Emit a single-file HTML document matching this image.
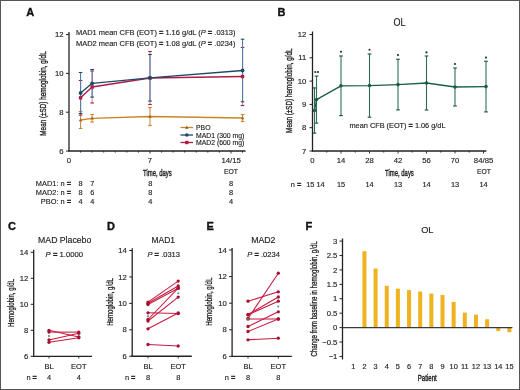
<!DOCTYPE html>
<html><head><meta charset="utf-8"><style>
html,body{margin:0;padding:0;background:#fff;}
body{width:520px;height:390px;overflow:hidden;}
svg{display:block;font-family:"Liberation Sans", sans-serif;will-change:transform;}
</style></head><body>
<svg width="520" height="390" viewBox="0 0 520 390">
<rect x="0" y="0" width="520" height="390" fill="#fff"/>
<text x="26.20" y="15.80" font-size="11" text-anchor="start" font-weight="bold" fill="#111" stroke="#111" stroke-width="0.35">A</text>
<line x1="69.00" y1="32.00" x2="69.00" y2="151.60" stroke="#222" stroke-width="1.3"/>
<line x1="68.40" y1="151.00" x2="245.50" y2="151.00" stroke="#222" stroke-width="1.3"/>
<text transform="translate(45.80,93.50) rotate(-90)" x="0" y="0" font-size="9.5" text-anchor="middle" fill="#1e1e1e" stroke="#1e1e1e" stroke-width="0.35" textLength="84.3" lengthAdjust="spacingAndGlyphs">Mean (±SD) hemoglobin, g/dL</text>
<line x1="66.00" y1="34.60" x2="69.00" y2="34.60" stroke="#222" stroke-width="1"/>
<text x="63.50" y="37.20" font-size="7.7" text-anchor="end" font-weight="normal" fill="#1e1e1e" stroke="#1e1e1e" stroke-width="0.15">12</text>
<line x1="66.00" y1="73.40" x2="69.00" y2="73.40" stroke="#222" stroke-width="1"/>
<text x="63.50" y="76.00" font-size="7.7" text-anchor="end" font-weight="normal" fill="#1e1e1e" stroke="#1e1e1e" stroke-width="0.15">10</text>
<line x1="66.00" y1="112.20" x2="69.00" y2="112.20" stroke="#222" stroke-width="1"/>
<text x="63.50" y="114.80" font-size="7.7" text-anchor="end" font-weight="normal" fill="#1e1e1e" stroke="#1e1e1e" stroke-width="0.15">8</text>
<line x1="66.00" y1="151.00" x2="69.00" y2="151.00" stroke="#222" stroke-width="1"/>
<text x="63.50" y="153.60" font-size="7.7" text-anchor="end" font-weight="normal" fill="#1e1e1e" stroke="#1e1e1e" stroke-width="0.15">6</text>
<line x1="80.57" y1="151.00" x2="80.57" y2="152.60" stroke="#222" stroke-width="0.9"/>
<line x1="92.14" y1="151.00" x2="92.14" y2="152.60" stroke="#222" stroke-width="0.9"/>
<line x1="103.71" y1="151.00" x2="103.71" y2="152.60" stroke="#222" stroke-width="0.9"/>
<line x1="115.28" y1="151.00" x2="115.28" y2="152.60" stroke="#222" stroke-width="0.9"/>
<line x1="126.85" y1="151.00" x2="126.85" y2="152.60" stroke="#222" stroke-width="0.9"/>
<line x1="138.42" y1="151.00" x2="138.42" y2="152.60" stroke="#222" stroke-width="0.9"/>
<line x1="149.99" y1="151.00" x2="149.99" y2="153.50" stroke="#222" stroke-width="0.9"/>
<line x1="161.56" y1="151.00" x2="161.56" y2="152.60" stroke="#222" stroke-width="0.9"/>
<line x1="173.13" y1="151.00" x2="173.13" y2="152.60" stroke="#222" stroke-width="0.9"/>
<line x1="184.70" y1="151.00" x2="184.70" y2="152.60" stroke="#222" stroke-width="0.9"/>
<line x1="196.27" y1="151.00" x2="196.27" y2="152.60" stroke="#222" stroke-width="0.9"/>
<line x1="207.84" y1="151.00" x2="207.84" y2="152.60" stroke="#222" stroke-width="0.9"/>
<line x1="219.41" y1="151.00" x2="219.41" y2="152.60" stroke="#222" stroke-width="0.9"/>
<line x1="230.98" y1="151.00" x2="230.98" y2="153.50" stroke="#222" stroke-width="0.9"/>
<line x1="242.55" y1="151.00" x2="242.55" y2="152.60" stroke="#222" stroke-width="0.9"/>
<text x="69.00" y="163.00" font-size="7.7" text-anchor="middle" font-weight="normal" fill="#1e1e1e" stroke="#1e1e1e" stroke-width="0.15">0</text>
<text x="150.00" y="163.00" font-size="7.7" text-anchor="middle" font-weight="normal" fill="#1e1e1e" stroke="#1e1e1e" stroke-width="0.15">7</text>
<text x="231.20" y="162.60" font-size="7.7" text-anchor="middle" font-weight="normal" fill="#1e1e1e" stroke="#1e1e1e" stroke-width="0.15" textLength="19.5" lengthAdjust="spacingAndGlyphs">14/15</text>
<text x="143.00" y="175.60" font-size="9.3" text-anchor="start" font-weight="normal" fill="#1e1e1e" stroke="#1e1e1e" stroke-width="0.4" textLength="28.7" lengthAdjust="spacingAndGlyphs">Time, days</text>
<text x="231.00" y="174.00" font-size="7.7" text-anchor="middle" font-weight="normal" fill="#1e1e1e" stroke="#1e1e1e" stroke-width="0.15" textLength="14" lengthAdjust="spacingAndGlyphs">EOT</text>
<text x="76.00" y="35.00" font-size="7.4" text-anchor="start" font-weight="normal" fill="#1e1e1e" stroke="#1e1e1e" stroke-width="0.15" textLength="159.5" lengthAdjust="spacingAndGlyphs">MAD1 mean CFB (EOT) <tspan font-weight="bold" stroke-width="0.3">=</tspan> 1.16 g/dL (<tspan font-style="italic">P</tspan> <tspan font-weight="bold" stroke-width="0.3">=</tspan> .0313)</text>
<text x="76.00" y="46.00" font-size="7.4" text-anchor="start" font-weight="normal" fill="#1e1e1e" stroke="#1e1e1e" stroke-width="0.15" textLength="159.5" lengthAdjust="spacingAndGlyphs">MAD2 mean CFB (EOT) <tspan font-weight="bold" stroke-width="0.3">=</tspan> 1.08 g/dL (<tspan font-style="italic">P</tspan> <tspan font-weight="bold" stroke-width="0.3">=</tspan> .0234)</text>
<line x1="80.57" y1="111.50" x2="80.57" y2="128.50" stroke="#c98e46" stroke-width="1.1"/>
<line x1="78.77" y1="111.50" x2="82.37" y2="111.50" stroke="#cc8526" stroke-width="1.1"/>
<line x1="78.77" y1="128.50" x2="82.37" y2="128.50" stroke="#cc8526" stroke-width="1.1"/>
<line x1="92.14" y1="114.50" x2="92.14" y2="122.10" stroke="#c98e46" stroke-width="1.1"/>
<line x1="90.34" y1="114.50" x2="93.94" y2="114.50" stroke="#cc8526" stroke-width="1.1"/>
<line x1="90.34" y1="122.10" x2="93.94" y2="122.10" stroke="#cc8526" stroke-width="1.1"/>
<line x1="149.99" y1="107.50" x2="149.99" y2="125.50" stroke="#c98e46" stroke-width="1.1"/>
<line x1="148.19" y1="107.50" x2="151.79" y2="107.50" stroke="#cc8526" stroke-width="1.1"/>
<line x1="148.19" y1="125.50" x2="151.79" y2="125.50" stroke="#cc8526" stroke-width="1.1"/>
<line x1="242.55" y1="114.50" x2="242.55" y2="121.50" stroke="#c98e46" stroke-width="1.1"/>
<line x1="240.75" y1="114.50" x2="244.35" y2="114.50" stroke="#cc8526" stroke-width="1.1"/>
<line x1="240.75" y1="121.50" x2="244.35" y2="121.50" stroke="#cc8526" stroke-width="1.1"/>
<line x1="80.57" y1="80.50" x2="80.57" y2="115.10" stroke="#d88aa0" stroke-width="1.1"/>
<line x1="78.77" y1="80.50" x2="82.37" y2="80.50" stroke="#b01a45" stroke-width="1.1"/>
<line x1="78.77" y1="115.10" x2="82.37" y2="115.10" stroke="#b01a45" stroke-width="1.1"/>
<line x1="92.14" y1="71.00" x2="92.14" y2="103.00" stroke="#d88aa0" stroke-width="1.1"/>
<line x1="90.34" y1="71.00" x2="93.94" y2="71.00" stroke="#b01a45" stroke-width="1.1"/>
<line x1="90.34" y1="103.00" x2="93.94" y2="103.00" stroke="#b01a45" stroke-width="1.1"/>
<line x1="149.99" y1="51.50" x2="149.99" y2="104.50" stroke="#d88aa0" stroke-width="1.1"/>
<line x1="148.19" y1="51.50" x2="151.79" y2="51.50" stroke="#b01a45" stroke-width="1.1"/>
<line x1="148.19" y1="104.50" x2="151.79" y2="104.50" stroke="#b01a45" stroke-width="1.1"/>
<line x1="242.55" y1="47.50" x2="242.55" y2="105.50" stroke="#d88aa0" stroke-width="1.1"/>
<line x1="240.75" y1="47.50" x2="244.35" y2="47.50" stroke="#b01a45" stroke-width="1.1"/>
<line x1="240.75" y1="105.50" x2="244.35" y2="105.50" stroke="#b01a45" stroke-width="1.1"/>
<line x1="80.57" y1="72.50" x2="80.57" y2="113.50" stroke="#4f7ea6" stroke-width="1.1"/>
<line x1="78.77" y1="72.50" x2="82.37" y2="72.50" stroke="#1d4a68" stroke-width="1.1"/>
<line x1="78.77" y1="113.50" x2="82.37" y2="113.50" stroke="#1d4a68" stroke-width="1.1"/>
<line x1="92.14" y1="69.50" x2="92.14" y2="97.10" stroke="#4f7ea6" stroke-width="1.1"/>
<line x1="90.34" y1="69.50" x2="93.94" y2="69.50" stroke="#1d4a68" stroke-width="1.1"/>
<line x1="90.34" y1="97.10" x2="93.94" y2="97.10" stroke="#1d4a68" stroke-width="1.1"/>
<line x1="149.99" y1="54.50" x2="149.99" y2="101.10" stroke="#4f7ea6" stroke-width="1.1"/>
<line x1="148.19" y1="54.50" x2="151.79" y2="54.50" stroke="#1d4a68" stroke-width="1.1"/>
<line x1="148.19" y1="101.10" x2="151.79" y2="101.10" stroke="#1d4a68" stroke-width="1.1"/>
<line x1="242.55" y1="39.20" x2="242.55" y2="101.80" stroke="#4f7ea6" stroke-width="1.1"/>
<line x1="240.75" y1="39.20" x2="244.35" y2="39.20" stroke="#1d4a68" stroke-width="1.1"/>
<line x1="240.75" y1="101.80" x2="244.35" y2="101.80" stroke="#1d4a68" stroke-width="1.1"/>
<polyline points="80.57,120.00 92.14,118.30 149.99,116.50 242.55,118.00" fill="none" stroke="#cc8526" stroke-width="1.3" stroke-linejoin="round"/>
<polyline points="80.57,97.80 92.14,87.00 149.99,78.00 242.55,76.50" fill="none" stroke="#b01a45" stroke-width="1.35" stroke-linejoin="round"/>
<polyline points="80.57,93.00 92.14,83.30 149.99,77.80 242.55,70.50" fill="none" stroke="#1d4a68" stroke-width="1.35" stroke-linejoin="round"/>
<path d="M78.77,121.30 L82.37,121.30 L80.57,118.20 Z" fill="#a86420"/>
<path d="M90.34,119.60 L93.94,119.60 L92.14,116.50 Z" fill="#a86420"/>
<path d="M148.19,117.80 L151.79,117.80 L149.99,114.70 Z" fill="#a86420"/>
<path d="M240.75,119.30 L244.35,119.30 L242.55,116.20 Z" fill="#a86420"/>
<rect x="78.87" y="96.10" width="3.4" height="3.4" fill="#b01a45"/>
<rect x="90.44" y="85.30" width="3.4" height="3.4" fill="#b01a45"/>
<rect x="148.29" y="76.30" width="3.4" height="3.4" fill="#b01a45"/>
<rect x="240.85" y="74.80" width="3.4" height="3.4" fill="#b01a45"/>
<circle cx="80.57" cy="93.00" r="1.9" fill="#1d4a68"/>
<circle cx="92.14" cy="83.30" r="1.9" fill="#1d4a68"/>
<circle cx="149.99" cy="77.80" r="1.9" fill="#1d4a68"/>
<circle cx="242.55" cy="70.50" r="1.9" fill="#1d4a68"/>
<line x1="180.50" y1="127.50" x2="193.00" y2="127.50" stroke="#cc8526" stroke-width="1.3"/>
<path d="M185.0,128.8 L188.60000000000002,128.8 L186.8,125.7 Z" fill="#9a5a1a"/>
<text x="196.00" y="130.10" font-size="7.3" text-anchor="start" font-weight="normal" fill="#1e1e1e" stroke="#1e1e1e" stroke-width="0.15" textLength="14.5" lengthAdjust="spacingAndGlyphs">PBO</text>
<line x1="180.50" y1="135.00" x2="193.00" y2="135.00" stroke="#1d4a68" stroke-width="1.3"/>
<circle cx="186.8" cy="135" r="1.8" fill="#1d4a68"/>
<text x="196.00" y="137.60" font-size="7.3" text-anchor="start" font-weight="normal" fill="#1e1e1e" stroke="#1e1e1e" stroke-width="0.15" textLength="48.3" lengthAdjust="spacingAndGlyphs">MAD1 (300 mg)</text>
<line x1="180.50" y1="142.50" x2="193.00" y2="142.50" stroke="#b01a45" stroke-width="1.3"/>
<rect x="185.10000000000002" y="140.8" width="3.4" height="3.4" fill="#b01a45"/>
<text x="196.00" y="145.10" font-size="7.3" text-anchor="start" font-weight="normal" fill="#1e1e1e" stroke="#1e1e1e" stroke-width="0.15" textLength="48.3" lengthAdjust="spacingAndGlyphs">MAD2 (600 mg)</text>
<text x="71.00" y="185.50" font-size="7.4" text-anchor="end" font-weight="normal" fill="#1e1e1e" stroke="#1e1e1e" stroke-width="0.15">MAD1: n <tspan font-weight="bold" stroke-width="0.3">=</tspan></text>
<text x="80.60" y="185.50" font-size="7.4" text-anchor="middle" font-weight="normal" fill="#1e1e1e" stroke="#1e1e1e" stroke-width="0.15">8</text>
<text x="92.20" y="185.50" font-size="7.4" text-anchor="middle" font-weight="normal" fill="#1e1e1e" stroke="#1e1e1e" stroke-width="0.15">7</text>
<text x="150.20" y="185.50" font-size="7.4" text-anchor="middle" font-weight="normal" fill="#1e1e1e" stroke="#1e1e1e" stroke-width="0.15">8</text>
<text x="231.00" y="185.50" font-size="7.4" text-anchor="middle" font-weight="normal" fill="#1e1e1e" stroke="#1e1e1e" stroke-width="0.15">8</text>
<text x="71.00" y="194.50" font-size="7.4" text-anchor="end" font-weight="normal" fill="#1e1e1e" stroke="#1e1e1e" stroke-width="0.15">MAD2: n <tspan font-weight="bold" stroke-width="0.3">=</tspan></text>
<text x="80.60" y="194.50" font-size="7.4" text-anchor="middle" font-weight="normal" fill="#1e1e1e" stroke="#1e1e1e" stroke-width="0.15">8</text>
<text x="92.20" y="194.50" font-size="7.4" text-anchor="middle" font-weight="normal" fill="#1e1e1e" stroke="#1e1e1e" stroke-width="0.15">6</text>
<text x="150.20" y="194.50" font-size="7.4" text-anchor="middle" font-weight="normal" fill="#1e1e1e" stroke="#1e1e1e" stroke-width="0.15">8</text>
<text x="231.00" y="194.50" font-size="7.4" text-anchor="middle" font-weight="normal" fill="#1e1e1e" stroke="#1e1e1e" stroke-width="0.15">8</text>
<text x="71.00" y="203.50" font-size="7.4" text-anchor="end" font-weight="normal" fill="#1e1e1e" stroke="#1e1e1e" stroke-width="0.15">PBO: n <tspan font-weight="bold" stroke-width="0.3">=</tspan></text>
<text x="80.60" y="203.50" font-size="7.4" text-anchor="middle" font-weight="normal" fill="#1e1e1e" stroke="#1e1e1e" stroke-width="0.15">4</text>
<text x="92.20" y="203.50" font-size="7.4" text-anchor="middle" font-weight="normal" fill="#1e1e1e" stroke="#1e1e1e" stroke-width="0.15">4</text>
<text x="150.20" y="203.50" font-size="7.4" text-anchor="middle" font-weight="normal" fill="#1e1e1e" stroke="#1e1e1e" stroke-width="0.15">4</text>
<text x="231.00" y="203.50" font-size="7.4" text-anchor="middle" font-weight="normal" fill="#1e1e1e" stroke="#1e1e1e" stroke-width="0.15">4</text>
<text x="277.60" y="15.80" font-size="11" text-anchor="start" font-weight="bold" fill="#111" stroke="#111" stroke-width="0.35">B</text>
<text x="399.50" y="26.20" font-size="10.2" text-anchor="middle" font-weight="normal" fill="#1e1e1e" stroke="#1e1e1e" stroke-width="0.15" textLength="12" lengthAdjust="spacingAndGlyphs">OL</text>
<line x1="312.50" y1="31.50" x2="312.50" y2="151.60" stroke="#222" stroke-width="1.3"/>
<line x1="311.90" y1="151.00" x2="486.40" y2="151.00" stroke="#222" stroke-width="1.3"/>
<line x1="309.50" y1="34.50" x2="312.50" y2="34.50" stroke="#222" stroke-width="1"/>
<text x="306.30" y="37.10" font-size="7.7" text-anchor="end" font-weight="normal" fill="#1e1e1e" stroke="#1e1e1e" stroke-width="0.15">12</text>
<line x1="309.50" y1="57.80" x2="312.50" y2="57.80" stroke="#222" stroke-width="1"/>
<text x="306.30" y="60.40" font-size="7.7" text-anchor="end" font-weight="normal" fill="#1e1e1e" stroke="#1e1e1e" stroke-width="0.15">11</text>
<line x1="309.50" y1="81.10" x2="312.50" y2="81.10" stroke="#222" stroke-width="1"/>
<text x="306.30" y="83.70" font-size="7.7" text-anchor="end" font-weight="normal" fill="#1e1e1e" stroke="#1e1e1e" stroke-width="0.15">10</text>
<line x1="309.50" y1="104.40" x2="312.50" y2="104.40" stroke="#222" stroke-width="1"/>
<text x="306.30" y="107.00" font-size="7.7" text-anchor="end" font-weight="normal" fill="#1e1e1e" stroke="#1e1e1e" stroke-width="0.15">9</text>
<line x1="309.50" y1="127.70" x2="312.50" y2="127.70" stroke="#222" stroke-width="1"/>
<text x="306.30" y="130.30" font-size="7.7" text-anchor="end" font-weight="normal" fill="#1e1e1e" stroke="#1e1e1e" stroke-width="0.15">8</text>
<line x1="309.50" y1="151.00" x2="312.50" y2="151.00" stroke="#222" stroke-width="1"/>
<text x="306.30" y="153.60" font-size="7.7" text-anchor="end" font-weight="normal" fill="#1e1e1e" stroke="#1e1e1e" stroke-width="0.15">7</text>
<line x1="326.75" y1="151.00" x2="326.75" y2="152.60" stroke="#222" stroke-width="0.9"/>
<line x1="341.00" y1="151.00" x2="341.00" y2="153.50" stroke="#222" stroke-width="0.9"/>
<line x1="355.26" y1="151.00" x2="355.26" y2="152.60" stroke="#222" stroke-width="0.9"/>
<line x1="369.51" y1="151.00" x2="369.51" y2="153.50" stroke="#222" stroke-width="0.9"/>
<line x1="383.76" y1="151.00" x2="383.76" y2="152.60" stroke="#222" stroke-width="0.9"/>
<line x1="398.01" y1="151.00" x2="398.01" y2="153.50" stroke="#222" stroke-width="0.9"/>
<line x1="412.26" y1="151.00" x2="412.26" y2="152.60" stroke="#222" stroke-width="0.9"/>
<line x1="426.52" y1="151.00" x2="426.52" y2="153.50" stroke="#222" stroke-width="0.9"/>
<line x1="440.77" y1="151.00" x2="440.77" y2="152.60" stroke="#222" stroke-width="0.9"/>
<line x1="455.02" y1="151.00" x2="455.02" y2="153.50" stroke="#222" stroke-width="0.9"/>
<line x1="469.27" y1="151.00" x2="469.27" y2="152.60" stroke="#222" stroke-width="0.9"/>
<line x1="483.52" y1="151.00" x2="483.52" y2="153.50" stroke="#222" stroke-width="0.9"/>
<text x="312.50" y="163.00" font-size="7.7" text-anchor="middle" font-weight="normal" fill="#1e1e1e" stroke="#1e1e1e" stroke-width="0.15">0</text>
<text x="341.00" y="163.00" font-size="7.7" text-anchor="middle" font-weight="normal" fill="#1e1e1e" stroke="#1e1e1e" stroke-width="0.15">14</text>
<text x="369.51" y="163.00" font-size="7.7" text-anchor="middle" font-weight="normal" fill="#1e1e1e" stroke="#1e1e1e" stroke-width="0.15">28</text>
<text x="398.01" y="163.00" font-size="7.7" text-anchor="middle" font-weight="normal" fill="#1e1e1e" stroke="#1e1e1e" stroke-width="0.15">42</text>
<text x="426.52" y="163.00" font-size="7.7" text-anchor="middle" font-weight="normal" fill="#1e1e1e" stroke="#1e1e1e" stroke-width="0.15">56</text>
<text x="455.02" y="163.00" font-size="7.7" text-anchor="middle" font-weight="normal" fill="#1e1e1e" stroke="#1e1e1e" stroke-width="0.15">70</text>
<text x="483.60" y="163.00" font-size="7.7" text-anchor="middle" font-weight="normal" fill="#1e1e1e" stroke="#1e1e1e" stroke-width="0.15" textLength="19.5" lengthAdjust="spacingAndGlyphs">84/85</text>
<text x="385.10" y="175.80" font-size="9.3" text-anchor="start" font-weight="normal" fill="#1e1e1e" stroke="#1e1e1e" stroke-width="0.4" textLength="28.7" lengthAdjust="spacingAndGlyphs">Time, days</text>
<text x="484.00" y="174.00" font-size="7.7" text-anchor="middle" font-weight="normal" fill="#1e1e1e" stroke="#1e1e1e" stroke-width="0.15" textLength="14" lengthAdjust="spacingAndGlyphs">EOT</text>
<text x="290.80" y="187.20" font-size="7.4" text-anchor="start" font-weight="normal" fill="#1e1e1e" stroke="#1e1e1e" stroke-width="0.15">n <tspan font-weight="bold" stroke-width="0.3">=</tspan></text>
<text x="310.30" y="187.20" font-size="7.4" text-anchor="middle" font-weight="normal" fill="#1e1e1e" stroke="#1e1e1e" stroke-width="0.15">15</text>
<text x="320.50" y="187.20" font-size="7.4" text-anchor="middle" font-weight="normal" fill="#1e1e1e" stroke="#1e1e1e" stroke-width="0.15">14</text>
<text x="341.00" y="187.20" font-size="7.4" text-anchor="middle" font-weight="normal" fill="#1e1e1e" stroke="#1e1e1e" stroke-width="0.15">15</text>
<text x="369.51" y="187.20" font-size="7.4" text-anchor="middle" font-weight="normal" fill="#1e1e1e" stroke="#1e1e1e" stroke-width="0.15">14</text>
<text x="398.01" y="187.20" font-size="7.4" text-anchor="middle" font-weight="normal" fill="#1e1e1e" stroke="#1e1e1e" stroke-width="0.15">13</text>
<text x="426.52" y="187.20" font-size="7.4" text-anchor="middle" font-weight="normal" fill="#1e1e1e" stroke="#1e1e1e" stroke-width="0.15">14</text>
<text x="455.02" y="187.20" font-size="7.4" text-anchor="middle" font-weight="normal" fill="#1e1e1e" stroke="#1e1e1e" stroke-width="0.15">13</text>
<text x="483.52" y="187.20" font-size="7.4" text-anchor="middle" font-weight="normal" fill="#1e1e1e" stroke="#1e1e1e" stroke-width="0.15">14</text>
<text x="349.50" y="128.00" font-size="7.4" text-anchor="start" font-weight="normal" fill="#1e1e1e" stroke="#1e1e1e" stroke-width="0.15" textLength="96" lengthAdjust="spacingAndGlyphs">mean CFB (EOT) <tspan font-weight="bold" stroke-width="0.3">=</tspan> 1.06 g/dL</text>
<text transform="translate(292.20,90.70) rotate(-90)" x="0" y="0" font-size="9.2" text-anchor="middle" fill="#1e1e1e" stroke="#1e1e1e" stroke-width="0.35" textLength="84.4" lengthAdjust="spacingAndGlyphs">Mean (±SD) hemoglobin, g/dL</text>
<line x1="314.50" y1="87.90" x2="314.50" y2="133.10" stroke="#2f6d5a" stroke-width="1.1"/>
<line x1="312.70" y1="87.90" x2="316.30" y2="87.90" stroke="#1b5e49" stroke-width="1.2"/>
<line x1="312.70" y1="133.10" x2="316.30" y2="133.10" stroke="#1b5e49" stroke-width="1.2"/>
<line x1="316.50" y1="76.10" x2="316.50" y2="123.10" stroke="#2f6d5a" stroke-width="1.1"/>
<line x1="314.70" y1="76.10" x2="318.30" y2="76.10" stroke="#1b5e49" stroke-width="1.2"/>
<line x1="314.70" y1="123.10" x2="318.30" y2="123.10" stroke="#1b5e49" stroke-width="1.2"/>
<line x1="341.00" y1="56.00" x2="341.00" y2="115.60" stroke="#2f6d5a" stroke-width="1.1"/>
<line x1="339.20" y1="56.00" x2="342.80" y2="56.00" stroke="#1b5e49" stroke-width="1.2"/>
<line x1="339.20" y1="115.60" x2="342.80" y2="115.60" stroke="#1b5e49" stroke-width="1.2"/>
<line x1="369.50" y1="54.00" x2="369.50" y2="117.20" stroke="#2f6d5a" stroke-width="1.1"/>
<line x1="367.70" y1="54.00" x2="371.30" y2="54.00" stroke="#1b5e49" stroke-width="1.2"/>
<line x1="367.70" y1="117.20" x2="371.30" y2="117.20" stroke="#1b5e49" stroke-width="1.2"/>
<line x1="398.00" y1="59.30" x2="398.00" y2="109.90" stroke="#2f6d5a" stroke-width="1.1"/>
<line x1="396.20" y1="59.30" x2="399.80" y2="59.30" stroke="#1b5e49" stroke-width="1.2"/>
<line x1="396.20" y1="109.90" x2="399.80" y2="109.90" stroke="#1b5e49" stroke-width="1.2"/>
<line x1="426.50" y1="56.00" x2="426.50" y2="110.00" stroke="#2f6d5a" stroke-width="1.1"/>
<line x1="424.70" y1="56.00" x2="428.30" y2="56.00" stroke="#1b5e49" stroke-width="1.2"/>
<line x1="424.70" y1="110.00" x2="428.30" y2="110.00" stroke="#1b5e49" stroke-width="1.2"/>
<line x1="455.00" y1="68.00" x2="455.00" y2="106.00" stroke="#2f6d5a" stroke-width="1.1"/>
<line x1="453.20" y1="68.00" x2="456.80" y2="68.00" stroke="#1b5e49" stroke-width="1.2"/>
<line x1="453.20" y1="106.00" x2="456.80" y2="106.00" stroke="#1b5e49" stroke-width="1.2"/>
<line x1="486.00" y1="61.30" x2="486.00" y2="111.90" stroke="#2f6d5a" stroke-width="1.1"/>
<line x1="484.20" y1="61.30" x2="487.80" y2="61.30" stroke="#1b5e49" stroke-width="1.2"/>
<line x1="484.20" y1="111.90" x2="487.80" y2="111.90" stroke="#1b5e49" stroke-width="1.2"/>
<polyline points="314.50,110.50 316.50,99.60 341.00,85.80 369.50,85.60 398.00,84.60 426.50,83.00 455.00,87.00 486.00,86.60" fill="none" stroke="#1b5e49" stroke-width="1.35" stroke-linejoin="round"/>
<circle cx="314.5" cy="110.5" r="1.8" fill="#1b5e49"/>
<circle cx="316.5" cy="99.6" r="1.8" fill="#1b5e49"/>
<circle cx="341" cy="85.8" r="1.8" fill="#1b5e49"/>
<circle cx="369.5" cy="85.6" r="1.8" fill="#1b5e49"/>
<circle cx="398" cy="84.6" r="1.8" fill="#1b5e49"/>
<circle cx="426.5" cy="83" r="1.8" fill="#1b5e49"/>
<circle cx="455" cy="87" r="1.8" fill="#1b5e49"/>
<circle cx="486" cy="86.6" r="1.8" fill="#1b5e49"/>
<circle cx="341" cy="51.8" r="1.05" fill="#2a2a2a"/>
<circle cx="369.5" cy="49.8" r="1.05" fill="#2a2a2a"/>
<circle cx="398" cy="55.1" r="1.05" fill="#2a2a2a"/>
<circle cx="426.5" cy="52.4" r="1.05" fill="#2a2a2a"/>
<circle cx="455" cy="64" r="1.05" fill="#2a2a2a"/>
<circle cx="486" cy="57.6" r="1.05" fill="#2a2a2a"/>
<circle cx="315.3" cy="72" r="1.05" fill="#2a2a2a"/><circle cx="318" cy="72" r="1.05" fill="#2a2a2a"/>
<text x="8.00" y="230.20" font-size="11" text-anchor="start" font-weight="bold" fill="#111" stroke="#111" stroke-width="0.35">C</text>
<text x="64.67" y="242.80" font-size="8.6" text-anchor="middle" font-weight="normal" fill="#1e1e1e" stroke="#1e1e1e" stroke-width="0.15" textLength="53.15" lengthAdjust="spacingAndGlyphs">MAD Placebo</text>
<text x="45.60" y="257.10" font-size="7.5" text-anchor="start" font-weight="normal" fill="#1e1e1e" stroke="#1e1e1e" stroke-width="0.15" textLength="37.49999999999999" lengthAdjust="spacingAndGlyphs"><tspan font-style="italic">P</tspan> <tspan font-weight="bold" stroke-width="0.3">=</tspan> 1.0000</text>
<line x1="33.70" y1="249.70" x2="33.70" y2="356.90" stroke="#222" stroke-width="1.3"/>
<line x1="33.10" y1="356.30" x2="92.00" y2="356.30" stroke="#222" stroke-width="1.3"/>
<line x1="30.70" y1="252.30" x2="33.70" y2="252.30" stroke="#222" stroke-width="1"/>
<text x="28.40" y="254.90" font-size="7.7" text-anchor="end" font-weight="normal" fill="#1e1e1e" stroke="#1e1e1e" stroke-width="0.15">14</text>
<line x1="30.70" y1="278.30" x2="33.70" y2="278.30" stroke="#222" stroke-width="1"/>
<text x="28.40" y="280.90" font-size="7.7" text-anchor="end" font-weight="normal" fill="#1e1e1e" stroke="#1e1e1e" stroke-width="0.15">12</text>
<line x1="30.70" y1="304.30" x2="33.70" y2="304.30" stroke="#222" stroke-width="1"/>
<text x="28.40" y="306.90" font-size="7.7" text-anchor="end" font-weight="normal" fill="#1e1e1e" stroke="#1e1e1e" stroke-width="0.15">10</text>
<line x1="30.70" y1="330.30" x2="33.70" y2="330.30" stroke="#222" stroke-width="1"/>
<text x="28.40" y="332.90" font-size="7.7" text-anchor="end" font-weight="normal" fill="#1e1e1e" stroke="#1e1e1e" stroke-width="0.15">8</text>
<line x1="30.70" y1="356.30" x2="33.70" y2="356.30" stroke="#222" stroke-width="1"/>
<text x="28.40" y="358.90" font-size="7.7" text-anchor="end" font-weight="normal" fill="#1e1e1e" stroke="#1e1e1e" stroke-width="0.15">6</text>
<line x1="49.00" y1="356.30" x2="49.00" y2="358.50" stroke="#222" stroke-width="0.9"/>
<line x1="78.80" y1="356.30" x2="78.80" y2="358.50" stroke="#222" stroke-width="0.9"/>
<text x="49.00" y="368.80" font-size="7.5" text-anchor="middle" font-weight="normal" fill="#1e1e1e" stroke="#1e1e1e" stroke-width="0.15">BL</text>
<text x="78.80" y="368.80" font-size="7.5" text-anchor="middle" font-weight="normal" fill="#1e1e1e" stroke="#1e1e1e" stroke-width="0.15">EOT</text>
<text x="26.40" y="379.60" font-size="7.4" text-anchor="start" font-weight="normal" fill="#1e1e1e" stroke="#1e1e1e" stroke-width="0.15">n <tspan font-weight="bold" stroke-width="0.3">=</tspan></text>
<text x="49.00" y="379.60" font-size="7.4" text-anchor="middle" font-weight="normal" fill="#1e1e1e" stroke="#1e1e1e" stroke-width="0.15">4</text>
<text x="78.80" y="379.60" font-size="7.4" text-anchor="middle" font-weight="normal" fill="#1e1e1e" stroke="#1e1e1e" stroke-width="0.15">4</text>
<text transform="translate(14.20,302.85) rotate(-90)" x="0" y="0" font-size="8.6" text-anchor="middle" fill="#1e1e1e" stroke="#1e1e1e" stroke-width="0.3" textLength="48.099999999999966" lengthAdjust="spacingAndGlyphs">Hemoglobin, g/dL</text>
<line x1="49.00" y1="330.30" x2="78.80" y2="337.00" stroke="#c81a40" stroke-width="1.05"/>
<line x1="49.00" y1="332.10" x2="78.80" y2="332.10" stroke="#c81a40" stroke-width="1.05"/>
<line x1="49.00" y1="340.00" x2="78.80" y2="333.30" stroke="#c81a40" stroke-width="1.05"/>
<line x1="49.00" y1="342.30" x2="78.80" y2="337.75" stroke="#c81a40" stroke-width="1.05"/>
<circle cx="49" cy="330.3" r="1.65" fill="#a80f30"/><circle cx="78.8" cy="337.0" r="1.65" fill="#a80f30"/>
<circle cx="49" cy="332.1" r="1.65" fill="#a80f30"/><circle cx="78.8" cy="332.1" r="1.65" fill="#a80f30"/>
<circle cx="49" cy="340" r="1.65" fill="#a80f30"/><circle cx="78.8" cy="333.3" r="1.65" fill="#a80f30"/>
<circle cx="49" cy="342.3" r="1.65" fill="#a80f30"/><circle cx="78.8" cy="337.75" r="1.65" fill="#a80f30"/>
<circle cx="49" cy="335.9" r="1" fill="#5a8a3a"/>
<text x="107.00" y="230.20" font-size="11" text-anchor="start" font-weight="bold" fill="#111" stroke="#111" stroke-width="0.35">D</text>
<text x="163.25" y="242.80" font-size="8.6" text-anchor="middle" font-weight="normal" fill="#1e1e1e" stroke="#1e1e1e" stroke-width="0.15" textLength="23.5" lengthAdjust="spacingAndGlyphs">MAD1</text>
<text x="147.50" y="257.10" font-size="7.5" text-anchor="start" font-weight="normal" fill="#1e1e1e" stroke="#1e1e1e" stroke-width="0.15" textLength="32.5" lengthAdjust="spacingAndGlyphs"><tspan font-style="italic">P</tspan> <tspan font-weight="bold" stroke-width="0.3">=</tspan> .0313</text>
<line x1="132.20" y1="248.20" x2="132.20" y2="356.86" stroke="#222" stroke-width="1.3"/>
<line x1="131.60" y1="356.26" x2="191.80" y2="356.26" stroke="#222" stroke-width="1.3"/>
<line x1="129.20" y1="250.50" x2="132.20" y2="250.50" stroke="#222" stroke-width="1"/>
<text x="126.90" y="253.10" font-size="7.7" text-anchor="end" font-weight="normal" fill="#1e1e1e" stroke="#1e1e1e" stroke-width="0.15">14</text>
<line x1="129.20" y1="276.94" x2="132.20" y2="276.94" stroke="#222" stroke-width="1"/>
<text x="126.90" y="279.54" font-size="7.7" text-anchor="end" font-weight="normal" fill="#1e1e1e" stroke="#1e1e1e" stroke-width="0.15">12</text>
<line x1="129.20" y1="303.38" x2="132.20" y2="303.38" stroke="#222" stroke-width="1"/>
<text x="126.90" y="305.98" font-size="7.7" text-anchor="end" font-weight="normal" fill="#1e1e1e" stroke="#1e1e1e" stroke-width="0.15">10</text>
<line x1="129.20" y1="329.82" x2="132.20" y2="329.82" stroke="#222" stroke-width="1"/>
<text x="126.90" y="332.42" font-size="7.7" text-anchor="end" font-weight="normal" fill="#1e1e1e" stroke="#1e1e1e" stroke-width="0.15">8</text>
<line x1="129.20" y1="356.26" x2="132.20" y2="356.26" stroke="#222" stroke-width="1"/>
<text x="126.90" y="358.86" font-size="7.7" text-anchor="end" font-weight="normal" fill="#1e1e1e" stroke="#1e1e1e" stroke-width="0.15">6</text>
<line x1="148.00" y1="356.26" x2="148.00" y2="358.46" stroke="#222" stroke-width="0.9"/>
<line x1="178.20" y1="356.26" x2="178.20" y2="358.46" stroke="#222" stroke-width="0.9"/>
<text x="148.00" y="368.80" font-size="7.5" text-anchor="middle" font-weight="normal" fill="#1e1e1e" stroke="#1e1e1e" stroke-width="0.15">BL</text>
<text x="178.20" y="368.80" font-size="7.5" text-anchor="middle" font-weight="normal" fill="#1e1e1e" stroke="#1e1e1e" stroke-width="0.15">EOT</text>
<text x="124.90" y="379.60" font-size="7.4" text-anchor="start" font-weight="normal" fill="#1e1e1e" stroke="#1e1e1e" stroke-width="0.15">n <tspan font-weight="bold" stroke-width="0.3">=</tspan></text>
<text x="148.00" y="379.60" font-size="7.4" text-anchor="middle" font-weight="normal" fill="#1e1e1e" stroke="#1e1e1e" stroke-width="0.15">8</text>
<text x="178.20" y="379.60" font-size="7.4" text-anchor="middle" font-weight="normal" fill="#1e1e1e" stroke="#1e1e1e" stroke-width="0.15">8</text>
<text transform="translate(112.50,301.95) rotate(-90)" x="0" y="0" font-size="8.6" text-anchor="middle" fill="#1e1e1e" stroke="#1e1e1e" stroke-width="0.3" textLength="47.69999999999999" lengthAdjust="spacingAndGlyphs">Hemoglobin, g/dL</text>
<line x1="148.00" y1="302.10" x2="178.20" y2="281.10" stroke="#c81a40" stroke-width="1.05"/>
<line x1="148.00" y1="303.30" x2="178.20" y2="286.00" stroke="#c81a40" stroke-width="1.05"/>
<line x1="148.00" y1="304.50" x2="178.20" y2="288.20" stroke="#c81a40" stroke-width="1.05"/>
<line x1="148.00" y1="319.50" x2="178.20" y2="288.20" stroke="#c81a40" stroke-width="1.05"/>
<line x1="148.00" y1="321.00" x2="178.20" y2="297.10" stroke="#c81a40" stroke-width="1.05"/>
<line x1="148.00" y1="312.80" x2="178.20" y2="313.50" stroke="#c81a40" stroke-width="1.05"/>
<line x1="148.00" y1="328.80" x2="178.20" y2="313.00" stroke="#c81a40" stroke-width="1.05"/>
<line x1="148.00" y1="344.50" x2="178.20" y2="346.00" stroke="#c81a40" stroke-width="1.05"/>
<circle cx="148" cy="302.1" r="1.65" fill="#a80f30"/><circle cx="178.2" cy="281.1" r="1.65" fill="#a80f30"/>
<circle cx="148" cy="303.3" r="1.65" fill="#a80f30"/><circle cx="178.2" cy="286" r="1.65" fill="#a80f30"/>
<circle cx="148" cy="304.5" r="1.65" fill="#a80f30"/><circle cx="178.2" cy="288.2" r="1.65" fill="#a80f30"/>
<circle cx="148" cy="319.5" r="1.65" fill="#a80f30"/><circle cx="178.2" cy="288.2" r="1.65" fill="#a80f30"/>
<circle cx="148" cy="321" r="1.65" fill="#a80f30"/><circle cx="178.2" cy="297.1" r="1.65" fill="#a80f30"/>
<circle cx="148" cy="312.8" r="1.65" fill="#a80f30"/><circle cx="178.2" cy="313.5" r="1.65" fill="#a80f30"/>
<circle cx="148" cy="328.8" r="1.65" fill="#a80f30"/><circle cx="178.2" cy="313" r="1.65" fill="#a80f30"/>
<circle cx="148" cy="344.5" r="1.65" fill="#a80f30"/><circle cx="178.2" cy="346" r="1.65" fill="#a80f30"/>
<circle cx="148" cy="316.2" r="1" fill="#5a8a3a"/>
<circle cx="178.2" cy="293.2" r="1" fill="#3a9a9a"/>
<text x="206.60" y="230.20" font-size="11" text-anchor="start" font-weight="bold" fill="#111" stroke="#111" stroke-width="0.35">E</text>
<text x="263.35" y="242.80" font-size="8.6" text-anchor="middle" font-weight="normal" fill="#1e1e1e" stroke="#1e1e1e" stroke-width="0.15" textLength="24.30000000000001" lengthAdjust="spacingAndGlyphs">MAD2</text>
<text x="247.20" y="257.10" font-size="7.5" text-anchor="start" font-weight="normal" fill="#1e1e1e" stroke="#1e1e1e" stroke-width="0.15" textLength="32.80000000000001" lengthAdjust="spacingAndGlyphs"><tspan font-style="italic">P</tspan> <tspan font-weight="bold" stroke-width="0.3">=</tspan> .0234</text>
<line x1="232.10" y1="248.00" x2="232.10" y2="357.00" stroke="#222" stroke-width="1.3"/>
<line x1="231.50" y1="356.40" x2="291.80" y2="356.40" stroke="#222" stroke-width="1.3"/>
<line x1="229.10" y1="250.00" x2="232.10" y2="250.00" stroke="#222" stroke-width="1"/>
<text x="226.80" y="252.60" font-size="7.7" text-anchor="end" font-weight="normal" fill="#1e1e1e" stroke="#1e1e1e" stroke-width="0.15">14</text>
<line x1="229.10" y1="276.60" x2="232.10" y2="276.60" stroke="#222" stroke-width="1"/>
<text x="226.80" y="279.20" font-size="7.7" text-anchor="end" font-weight="normal" fill="#1e1e1e" stroke="#1e1e1e" stroke-width="0.15">12</text>
<line x1="229.10" y1="303.20" x2="232.10" y2="303.20" stroke="#222" stroke-width="1"/>
<text x="226.80" y="305.80" font-size="7.7" text-anchor="end" font-weight="normal" fill="#1e1e1e" stroke="#1e1e1e" stroke-width="0.15">10</text>
<line x1="229.10" y1="329.80" x2="232.10" y2="329.80" stroke="#222" stroke-width="1"/>
<text x="226.80" y="332.40" font-size="7.7" text-anchor="end" font-weight="normal" fill="#1e1e1e" stroke="#1e1e1e" stroke-width="0.15">8</text>
<line x1="229.10" y1="356.40" x2="232.10" y2="356.40" stroke="#222" stroke-width="1"/>
<text x="226.80" y="359.00" font-size="7.7" text-anchor="end" font-weight="normal" fill="#1e1e1e" stroke="#1e1e1e" stroke-width="0.15">6</text>
<line x1="248.00" y1="356.40" x2="248.00" y2="358.60" stroke="#222" stroke-width="0.9"/>
<line x1="278.30" y1="356.40" x2="278.30" y2="358.60" stroke="#222" stroke-width="0.9"/>
<text x="248.00" y="368.80" font-size="7.5" text-anchor="middle" font-weight="normal" fill="#1e1e1e" stroke="#1e1e1e" stroke-width="0.15">BL</text>
<text x="278.30" y="368.80" font-size="7.5" text-anchor="middle" font-weight="normal" fill="#1e1e1e" stroke="#1e1e1e" stroke-width="0.15">EOT</text>
<text x="224.80" y="379.60" font-size="7.4" text-anchor="start" font-weight="normal" fill="#1e1e1e" stroke="#1e1e1e" stroke-width="0.15">n <tspan font-weight="bold" stroke-width="0.3">=</tspan></text>
<text x="248.00" y="379.60" font-size="7.4" text-anchor="middle" font-weight="normal" fill="#1e1e1e" stroke="#1e1e1e" stroke-width="0.15">8</text>
<text x="278.30" y="379.60" font-size="7.4" text-anchor="middle" font-weight="normal" fill="#1e1e1e" stroke="#1e1e1e" stroke-width="0.15">8</text>
<text transform="translate(212.30,301.75) rotate(-90)" x="0" y="0" font-size="8.6" text-anchor="middle" fill="#1e1e1e" stroke="#1e1e1e" stroke-width="0.3" textLength="48.10000000000002" lengthAdjust="spacingAndGlyphs">Hemoglobin, g/dL</text>
<line x1="248.00" y1="301.20" x2="278.30" y2="291.80" stroke="#c81a40" stroke-width="1.05"/>
<line x1="248.00" y1="318.50" x2="278.30" y2="273.20" stroke="#c81a40" stroke-width="1.05"/>
<line x1="248.00" y1="314.50" x2="278.30" y2="297.00" stroke="#c81a40" stroke-width="1.05"/>
<line x1="248.00" y1="314.80" x2="278.30" y2="301.20" stroke="#c81a40" stroke-width="1.05"/>
<line x1="248.00" y1="319.00" x2="278.30" y2="319.00" stroke="#c81a40" stroke-width="1.05"/>
<line x1="248.00" y1="326.50" x2="278.30" y2="311.80" stroke="#c81a40" stroke-width="1.05"/>
<line x1="248.00" y1="331.50" x2="278.30" y2="319.00" stroke="#c81a40" stroke-width="1.05"/>
<line x1="248.00" y1="339.80" x2="278.30" y2="338.20" stroke="#c81a40" stroke-width="1.05"/>
<circle cx="248" cy="301.2" r="1.65" fill="#a80f30"/><circle cx="278.3" cy="291.8" r="1.65" fill="#a80f30"/>
<circle cx="248" cy="318.5" r="1.65" fill="#a80f30"/><circle cx="278.3" cy="273.2" r="1.65" fill="#a80f30"/>
<circle cx="248" cy="314.5" r="1.65" fill="#a80f30"/><circle cx="278.3" cy="297" r="1.65" fill="#a80f30"/>
<circle cx="248" cy="314.8" r="1.65" fill="#a80f30"/><circle cx="278.3" cy="301.2" r="1.65" fill="#a80f30"/>
<circle cx="248" cy="319" r="1.65" fill="#a80f30"/><circle cx="278.3" cy="319" r="1.65" fill="#a80f30"/>
<circle cx="248" cy="326.5" r="1.65" fill="#a80f30"/><circle cx="278.3" cy="311.8" r="1.65" fill="#a80f30"/>
<circle cx="248" cy="331.5" r="1.65" fill="#a80f30"/><circle cx="278.3" cy="319" r="1.65" fill="#a80f30"/>
<circle cx="248" cy="339.8" r="1.65" fill="#a80f30"/><circle cx="278.3" cy="338.2" r="1.65" fill="#a80f30"/>
<circle cx="248" cy="319" r="1" fill="#5a8a3a"/>
<circle cx="278.3" cy="306.5" r="1" fill="#3a9a9a"/>
<text x="305.40" y="230.20" font-size="11" text-anchor="start" font-weight="bold" fill="#111" stroke="#111" stroke-width="0.35">F</text>
<text x="427.30" y="233.30" font-size="9.6" text-anchor="middle" font-weight="normal" fill="#1e1e1e" stroke="#1e1e1e" stroke-width="0.15" textLength="12.3" lengthAdjust="spacingAndGlyphs">OL</text>
<line x1="342.50" y1="238.50" x2="342.50" y2="359.50" stroke="#222" stroke-width="1.3"/>
<line x1="339.50" y1="241.11" x2="342.50" y2="241.11" stroke="#222" stroke-width="1"/>
<text x="337.40" y="243.71" font-size="7.7" text-anchor="end" font-weight="normal" fill="#1e1e1e" stroke="#1e1e1e" stroke-width="0.15">3</text>
<line x1="339.50" y1="255.53" x2="342.50" y2="255.53" stroke="#222" stroke-width="1"/>
<text x="337.40" y="258.13" font-size="7.7" text-anchor="end" font-weight="normal" fill="#1e1e1e" stroke="#1e1e1e" stroke-width="0.15">2.5</text>
<line x1="339.50" y1="269.94" x2="342.50" y2="269.94" stroke="#222" stroke-width="1"/>
<text x="337.40" y="272.54" font-size="7.7" text-anchor="end" font-weight="normal" fill="#1e1e1e" stroke="#1e1e1e" stroke-width="0.15">2</text>
<line x1="339.50" y1="284.36" x2="342.50" y2="284.36" stroke="#222" stroke-width="1"/>
<text x="337.40" y="286.96" font-size="7.7" text-anchor="end" font-weight="normal" fill="#1e1e1e" stroke="#1e1e1e" stroke-width="0.15">1.5</text>
<line x1="339.50" y1="298.77" x2="342.50" y2="298.77" stroke="#222" stroke-width="1"/>
<text x="337.40" y="301.37" font-size="7.7" text-anchor="end" font-weight="normal" fill="#1e1e1e" stroke="#1e1e1e" stroke-width="0.15">1</text>
<line x1="339.50" y1="313.19" x2="342.50" y2="313.19" stroke="#222" stroke-width="1"/>
<text x="337.40" y="315.79" font-size="7.7" text-anchor="end" font-weight="normal" fill="#1e1e1e" stroke="#1e1e1e" stroke-width="0.15">0.5</text>
<line x1="339.50" y1="327.60" x2="342.50" y2="327.60" stroke="#222" stroke-width="1"/>
<text x="337.40" y="330.20" font-size="7.7" text-anchor="end" font-weight="normal" fill="#1e1e1e" stroke="#1e1e1e" stroke-width="0.15">0</text>
<line x1="339.50" y1="342.02" x2="342.50" y2="342.02" stroke="#222" stroke-width="1"/>
<text x="337.40" y="344.62" font-size="7.7" text-anchor="end" font-weight="normal" fill="#1e1e1e" stroke="#1e1e1e" stroke-width="0.15">−0.5</text>
<line x1="339.50" y1="356.43" x2="342.50" y2="356.43" stroke="#222" stroke-width="1"/>
<text x="337.40" y="359.03" font-size="7.7" text-anchor="end" font-weight="normal" fill="#1e1e1e" stroke="#1e1e1e" stroke-width="0.15">−1</text>
<text x="353.30" y="368.50" font-size="7.4" text-anchor="middle" font-weight="normal" fill="#1e1e1e" stroke="#1e1e1e" stroke-width="0.15">1</text>
<rect x="362.45" y="251.20" width="4" height="76.40" fill="#efb320"/>
<text x="364.45" y="368.50" font-size="7.4" text-anchor="middle" font-weight="normal" fill="#1e1e1e" stroke="#1e1e1e" stroke-width="0.15">2</text>
<rect x="373.60" y="268.50" width="4" height="59.10" fill="#efb320"/>
<text x="375.60" y="368.50" font-size="7.4" text-anchor="middle" font-weight="normal" fill="#1e1e1e" stroke="#1e1e1e" stroke-width="0.15">3</text>
<rect x="384.75" y="285.80" width="4" height="41.80" fill="#efb320"/>
<text x="386.75" y="368.50" font-size="7.4" text-anchor="middle" font-weight="normal" fill="#1e1e1e" stroke="#1e1e1e" stroke-width="0.15">4</text>
<rect x="395.90" y="288.68" width="4" height="38.92" fill="#efb320"/>
<text x="397.90" y="368.50" font-size="7.4" text-anchor="middle" font-weight="normal" fill="#1e1e1e" stroke="#1e1e1e" stroke-width="0.15">5</text>
<rect x="407.05" y="290.12" width="4" height="37.48" fill="#efb320"/>
<text x="409.05" y="368.50" font-size="7.4" text-anchor="middle" font-weight="normal" fill="#1e1e1e" stroke="#1e1e1e" stroke-width="0.15">6</text>
<rect x="418.20" y="291.56" width="4" height="36.04" fill="#efb320"/>
<text x="420.20" y="368.50" font-size="7.4" text-anchor="middle" font-weight="normal" fill="#1e1e1e" stroke="#1e1e1e" stroke-width="0.15">7</text>
<rect x="429.35" y="293.58" width="4" height="34.02" fill="#efb320"/>
<text x="431.35" y="368.50" font-size="7.4" text-anchor="middle" font-weight="normal" fill="#1e1e1e" stroke="#1e1e1e" stroke-width="0.15">8</text>
<rect x="440.50" y="295.02" width="4" height="32.58" fill="#efb320"/>
<text x="442.50" y="368.50" font-size="7.4" text-anchor="middle" font-weight="normal" fill="#1e1e1e" stroke="#1e1e1e" stroke-width="0.15">9</text>
<rect x="451.65" y="301.94" width="4" height="25.66" fill="#efb320"/>
<text x="453.65" y="368.50" font-size="7.4" text-anchor="middle" font-weight="normal" fill="#1e1e1e" stroke="#1e1e1e" stroke-width="0.15">10</text>
<rect x="462.80" y="312.61" width="4" height="14.99" fill="#efb320"/>
<text x="464.80" y="368.50" font-size="7.4" text-anchor="middle" font-weight="normal" fill="#1e1e1e" stroke="#1e1e1e" stroke-width="0.15">11</text>
<rect x="473.95" y="314.63" width="4" height="12.97" fill="#efb320"/>
<text x="475.95" y="368.50" font-size="7.4" text-anchor="middle" font-weight="normal" fill="#1e1e1e" stroke="#1e1e1e" stroke-width="0.15">12</text>
<rect x="485.10" y="319.24" width="4" height="8.36" fill="#efb320"/>
<text x="487.10" y="368.50" font-size="7.4" text-anchor="middle" font-weight="normal" fill="#1e1e1e" stroke="#1e1e1e" stroke-width="0.15">13</text>
<rect x="496.25" y="327.60" width="4" height="3.46" fill="#efb320"/>
<text x="498.25" y="368.50" font-size="7.4" text-anchor="middle" font-weight="normal" fill="#1e1e1e" stroke="#1e1e1e" stroke-width="0.15">14</text>
<rect x="507.40" y="327.60" width="4" height="4.61" fill="#efb320"/>
<text x="509.40" y="368.50" font-size="7.4" text-anchor="middle" font-weight="normal" fill="#1e1e1e" stroke="#1e1e1e" stroke-width="0.15">15</text>
<line x1="342.50" y1="327.60" x2="512.40" y2="327.60" stroke="#3a3a3a" stroke-width="1.4"/>
<text x="417.80" y="380.80" font-size="8.6" text-anchor="start" font-weight="normal" fill="#1e1e1e" stroke="#1e1e1e" stroke-width="0.4" textLength="18.9" lengthAdjust="spacingAndGlyphs">Patient</text>
<text transform="translate(316.50,298.90) rotate(-90)" x="0" y="0" font-size="8.8" text-anchor="middle" fill="#1e1e1e" stroke="#1e1e1e" stroke-width="0.3" textLength="115.3" lengthAdjust="spacingAndGlyphs">Change from baseline in hemoglobin, g/dL</text>
<rect x="0.5" y="0.5" width="519" height="389" fill="none" stroke="#555" stroke-width="1"/>
</svg>
</body></html>
